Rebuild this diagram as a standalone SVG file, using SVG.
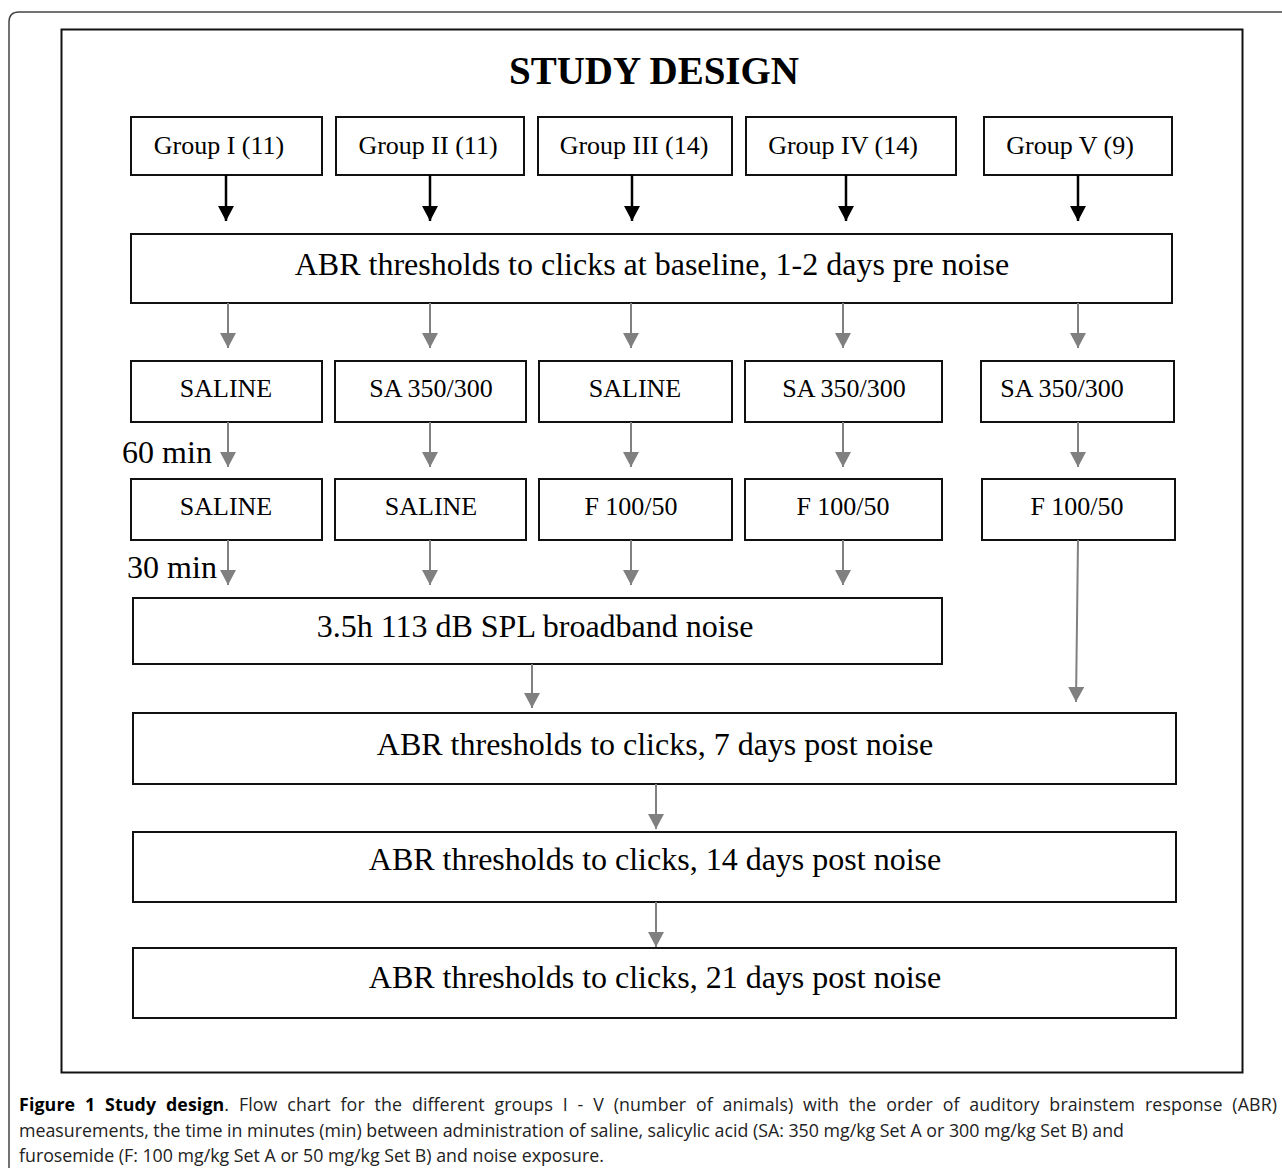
<svg xmlns="http://www.w3.org/2000/svg" width="1282" height="1170" viewBox="0 0 1282 1170">
<defs>
<style>
.box{fill:#fff;stroke:#111;stroke-width:2}
.t{font-family:"Liberation Serif","Times New Roman",serif;fill:#000;text-anchor:middle}
.g{font-size:26px}
.big{font-size:32px}
.blk{stroke:#000;stroke-width:2.5;fill:none}
.gry{stroke:#808080;stroke-width:2;fill:none}
.cap{font-family:"Open Sans","Noto Sans",sans-serif;font-size:17.8px;fill:#222}
</style>
<marker id="ab" markerUnits="userSpaceOnUse" markerWidth="15" markerHeight="16" viewBox="0 0 15 16" refX="15" refY="8" orient="auto">
<path d="M0,0 L15,8 L0,16 z" fill="#000"/>
</marker>
<marker id="ag" markerUnits="userSpaceOnUse" markerWidth="15" markerHeight="16" viewBox="0 0 15 16" refX="15" refY="8" orient="auto">
<path d="M0,0 L15,8 L0,16 z" fill="#808080"/>
</marker>
</defs>
<rect width="1282" height="1170" fill="#fff"/>
<path d="M9,1168 L9,22 Q9,12 19,12 L1282,12" fill="none" stroke="#444" stroke-width="1.5"/>
<rect x="61.5" y="29.5" width="1181" height="1043" fill="none" stroke="#111" stroke-width="2"/>
<text class="t" x="654" y="84" style="font-size:39px;font-weight:bold">STUDY DESIGN</text>

<g id="group1"><rect class="box" x="131" y="117" width="191" height="58"/><text class="t g" x="219" y="154">Group I (11)</text></g>
<g id="group2"><rect class="box" x="336" y="117" width="188" height="58"/><text class="t g" x="428" y="154">Group II (11)</text></g>
<g id="group3"><rect class="box" x="538" y="117" width="194" height="58"/><text class="t g" x="634" y="154">Group III (14)</text></g>
<g id="group4"><rect class="box" x="746" y="117" width="210" height="58"/><text class="t g" x="843" y="154">Group IV (14)</text></g>
<g id="group5"><rect class="box" x="984" y="117" width="188" height="58"/><text class="t g" x="1070" y="154">Group V (9)</text></g>

<g id="baseline"><rect class="box" x="131" y="234" width="1041" height="69"/><text class="t big" x="652" y="275">ABR thresholds to clicks at baseline, 1-2 days pre noise</text></g>

<g id="r1c1"><rect class="box" x="131" y="361" width="191" height="61"/><text class="t g" x="226" y="397">SALINE</text></g>
<g id="r1c2"><rect class="box" x="335" y="361" width="191" height="61"/><text class="t g" x="431" y="397">SA 350/300</text></g>
<g id="r1c3"><rect class="box" x="539" y="361" width="193" height="61"/><text class="t g" x="635" y="397">SALINE</text></g>
<g id="r1c4"><rect class="box" x="745" y="361" width="197" height="61"/><text class="t g" x="844" y="397">SA 350/300</text></g>
<g id="r1c5"><rect class="box" x="981" y="361" width="193" height="61"/><text class="t g" x="1062" y="397">SA 350/300</text></g>

<g id="r2c1"><rect class="box" x="131" y="479" width="191" height="61"/><text class="t g" x="226" y="515">SALINE</text></g>
<g id="r2c2"><rect class="box" x="335" y="479" width="191" height="61"/><text class="t g" x="431" y="515">SALINE</text></g>
<g id="r2c3"><rect class="box" x="539" y="479" width="193" height="61"/><text class="t g" x="631" y="515">F 100/50</text></g>
<g id="r2c4"><rect class="box" x="745" y="479" width="197" height="61"/><text class="t g" x="843" y="515">F 100/50</text></g>
<g id="r2c5"><rect class="box" x="982" y="479" width="193" height="61"/><text class="t g" x="1077" y="515">F 100/50</text></g>

<g id="noise"><rect class="box" x="133" y="598" width="809" height="66"/><text class="t big" x="535" y="637">3.5h 113 dB SPL broadband noise</text></g>
<g id="post7"><rect class="box" x="133" y="713" width="1043" height="71"/><text class="t big" x="655" y="755">ABR thresholds to clicks, 7 days post noise</text></g>
<g id="post14"><rect class="box" x="133" y="832" width="1043" height="70"/><text class="t big" x="655" y="870">ABR thresholds to clicks, 14 days post noise</text></g>
<g id="post21"><rect class="box" x="133" y="948" width="1043" height="70"/><text class="t big" x="655" y="988">ABR thresholds to clicks, 21 days post noise</text></g>

<g id="labels">
<text class="t big" x="167" y="463">60 min</text>
<text class="t big" x="172" y="578">30 min</text>
</g>

<g id="connectors">
<line class="blk" x1="226" y1="175" x2="226" y2="221" marker-end="url(#ab)"/>
<line class="blk" x1="430" y1="175" x2="430" y2="221" marker-end="url(#ab)"/>
<line class="blk" x1="632" y1="175" x2="632" y2="221" marker-end="url(#ab)"/>
<line class="blk" x1="846" y1="175" x2="846" y2="221" marker-end="url(#ab)"/>
<line class="blk" x1="1078" y1="175" x2="1078" y2="221" marker-end="url(#ab)"/>

<line class="gry" x1="228" y1="303" x2="228" y2="348" marker-end="url(#ag)"/>
<line class="gry" x1="430" y1="303" x2="430" y2="348" marker-end="url(#ag)"/>
<line class="gry" x1="631" y1="303" x2="631" y2="348" marker-end="url(#ag)"/>
<line class="gry" x1="843" y1="303" x2="843" y2="348" marker-end="url(#ag)"/>
<line class="gry" x1="1078" y1="303" x2="1078" y2="348" marker-end="url(#ag)"/>

<line class="gry" x1="228" y1="422" x2="228" y2="467" marker-end="url(#ag)"/>
<line class="gry" x1="430" y1="422" x2="430" y2="467" marker-end="url(#ag)"/>
<line class="gry" x1="631" y1="422" x2="631" y2="467" marker-end="url(#ag)"/>
<line class="gry" x1="843" y1="422" x2="843" y2="467" marker-end="url(#ag)"/>
<line class="gry" x1="1078" y1="422" x2="1078" y2="467" marker-end="url(#ag)"/>

<line class="gry" x1="228" y1="540" x2="228" y2="585" marker-end="url(#ag)"/>
<line class="gry" x1="430" y1="540" x2="430" y2="585" marker-end="url(#ag)"/>
<line class="gry" x1="631" y1="540" x2="631" y2="585" marker-end="url(#ag)"/>
<line class="gry" x1="843" y1="540" x2="843" y2="585" marker-end="url(#ag)"/>
<line class="gry" x1="1078" y1="540" x2="1076" y2="702" marker-end="url(#ag)"/>

<line class="gry" x1="532" y1="664" x2="532" y2="708" marker-end="url(#ag)"/>
<line class="gry" x1="656" y1="784" x2="656" y2="829" marker-end="url(#ag)"/>
<line class="gry" x1="656" y1="902" x2="656" y2="947" marker-end="url(#ag)"/>
</g>

<g id="caption">
<text class="cap" x="19" y="1111" word-spacing="5" textLength="1258" lengthAdjust="spacing"><tspan font-weight="bold" fill="#000">Figure 1 Study design</tspan>. Flow chart for the different groups I - V (number of animals) with the order of auditory brainstem response (ABR)</text>
<text class="cap" x="19" y="1137" textLength="1105" lengthAdjust="spacing">measurements, the time in minutes (min) between administration of saline, salicylic acid (SA: 350 mg/kg Set A or 300 mg/kg Set B) and</text>
<text class="cap" x="19" y="1162">furosemide (F: 100 mg/kg Set A or 50 mg/kg Set B) and noise exposure.</text>
</g>
</svg>
